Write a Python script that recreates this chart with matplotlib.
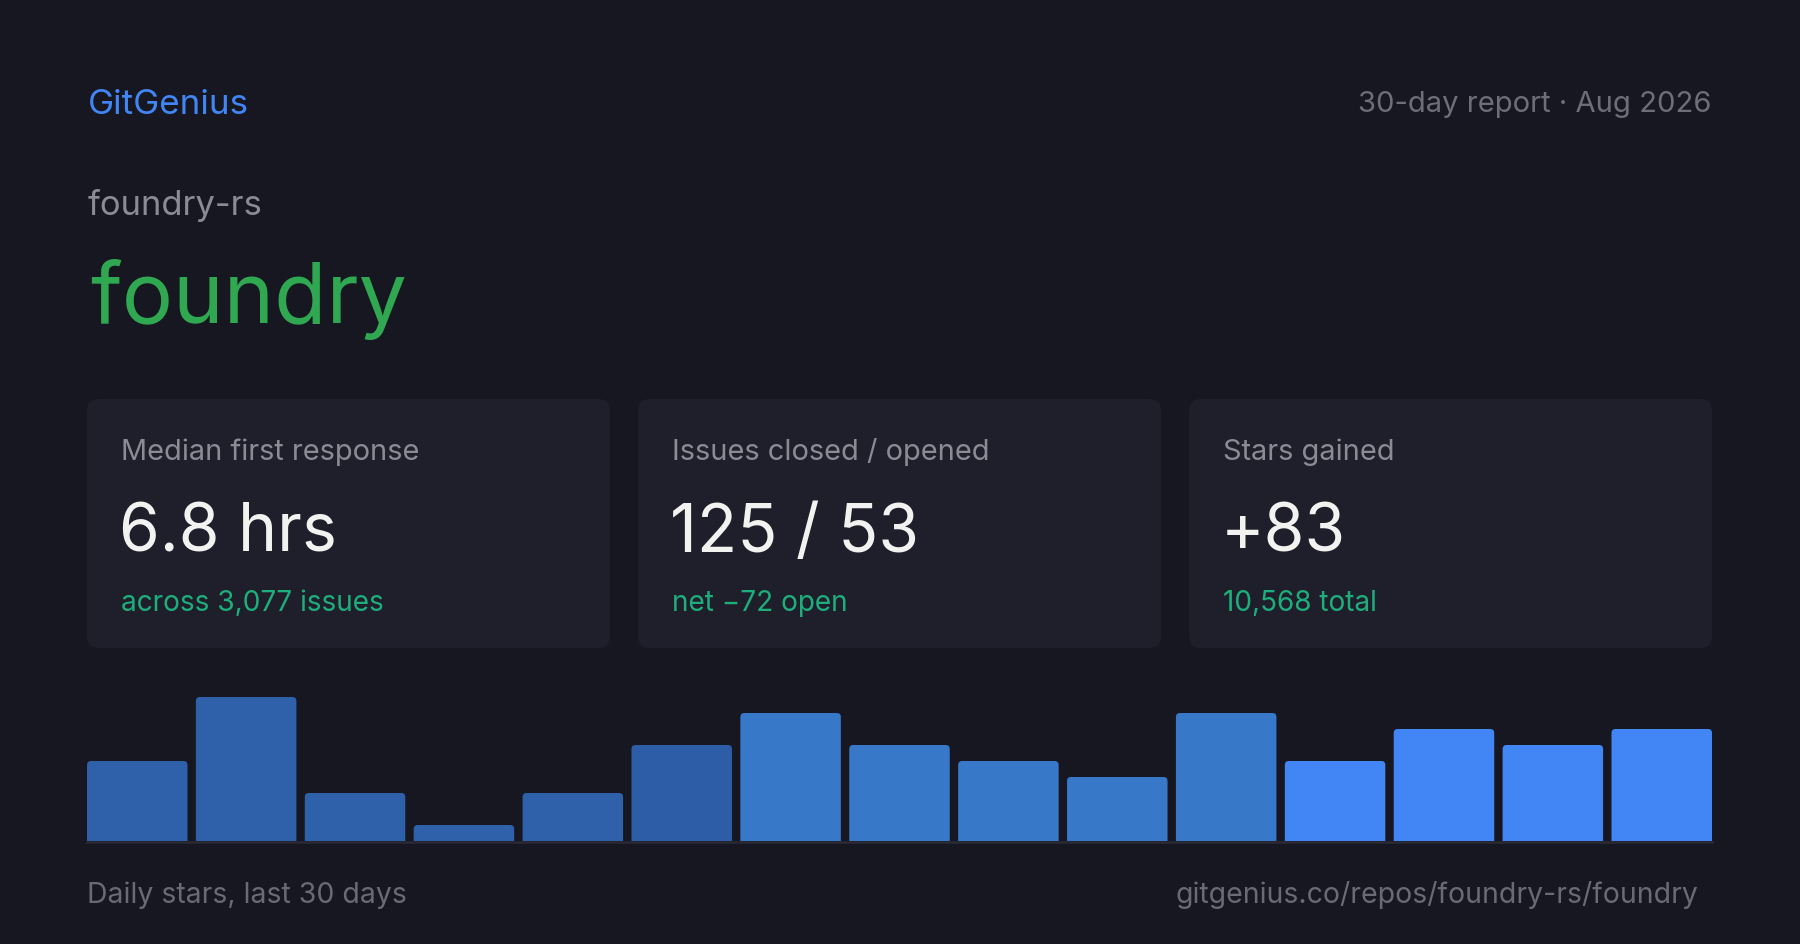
import matplotlib
matplotlib.use("Agg")
import matplotlib.pyplot as plt
from matplotlib.patches import FancyBboxPatch

plt.rcParams['font.family'] = ['Inter', 'DejaVu Sans']

# data
brand = "GitGenius"
report = "30-day report \u00b7 Aug 2026"
owner = "foundry-rs"
repo = "foundry"
card_labels = ["Median first response", "Issues closed / opened", "Stars gained"]
card_values = ["6.8 hrs", "125 / 53", "+83"]
card_subs = ["across 3,077 issues", "net \u221272 open", "10,568 total"]
daily_stars = [5, 9, 3, 1, 3, 6, 8, 6, 5, 4, 8, 5, 7, 6, 7]
bar_colors = ["#2f60aa"] * 5 + ["#2d5da7"] + ["#3778c9"] * 5 + ["#4285f4"] * 4
footer_left = "Daily stars, last 30 days"
footer_right = "gitgenius.co/repos/foundry-rs/foundry"

W, H, DPI = 1800, 945, 100
BG = "#161720"
CARD = "#1f1f2b"

def pt(px):
    return px * 72 / DPI

fig = plt.figure(figsize=(W / DPI, H / DPI), dpi=DPI, facecolor=BG)
page = fig.add_axes([0, 0, 1, 1])
page.set_xlim(0, W)
page.set_ylim(H, 0)
page.axis("off")
page.set_facecolor(BG)

# header
page.text(88, 114, brand, color="#4285f4", fontsize=pt(35), va="baseline", ha="left")
page.text(1712, 112, report, color="#6e6e78", fontsize=pt(29.2), va="baseline", ha="right")
page.text(88, 215, owner, color="#8b8b95", fontsize=pt(34.5), va="baseline", ha="left")
page.text(90, 323, repo, color="#30a852", fontsize=pt(85.5), va="baseline", ha="left")

# stat cards
card_w, card_gap = 523, 28
for i in range(len(card_labels)):
    x0 = 87 + i * (card_w + card_gap)
    page.add_patch(FancyBboxPatch((x0, 400), card_w, 249,
                                  boxstyle="round,pad=0,rounding_size=12",
                                  facecolor=CARD, edgecolor="none"))
    page.text(x0 + 34, 460, card_labels[i], color="#8b8b95", fontsize=pt(29), va="baseline")
    page.text(x0 + 32, 552, card_values[i], color="#f2f2f0", fontsize=pt(66), va="baseline")
    page.text(x0 + 34, 611, card_subs[i], color="#1eae7c", fontsize=pt(28), va="baseline")

# daily stars bars
bx0, bx1, by_base, by_top = 87, 1712, 842, 690
bar_ax = fig.add_axes([bx0 / W, (H - by_base) / H, (bx1 - bx0) / W, (by_base - by_top) / H])
bar_ax.axis("off")
width = 0.923
n = len(daily_stars)
bar_ax.set_xlim(-width / 2, n - 1 + width / 2)
bar_ax.set_ylim(0, 9.5)
bars = bar_ax.bar(range(n), daily_stars, width=width, color=bar_colors)
px_per_x = (bx1 - bx0) / (n - 1 + width)
px_per_y = (by_base - by_top) / 9.5
aspect = px_per_x / px_per_y
for b in bars:
    b.set_visible(False)
    x, h, w = b.get_x(), b.get_height(), b.get_width()
    bar_ax.add_patch(FancyBboxPatch((x, -0.5), w, h + 0.5,
                                    boxstyle="round,pad=0,rounding_size=%f" % (4 / px_per_x),
                                    mutation_aspect=aspect,
                                    facecolor=b.get_facecolor(), edgecolor="none"))
bar_ax.axhline(-0.06, color="#2a2a36", lw=pt(2.5), clip_on=False)

# footer
page.text(87, 903, footer_left, color="#6a6a74", fontsize=pt(28.4), va="baseline", ha="left")
page.text(1698, 903, footer_right, color="#6a6a74", fontsize=pt(28.4), va="baseline", ha="right")

fig.savefig("out.png", dpi=DPI, facecolor=BG)
